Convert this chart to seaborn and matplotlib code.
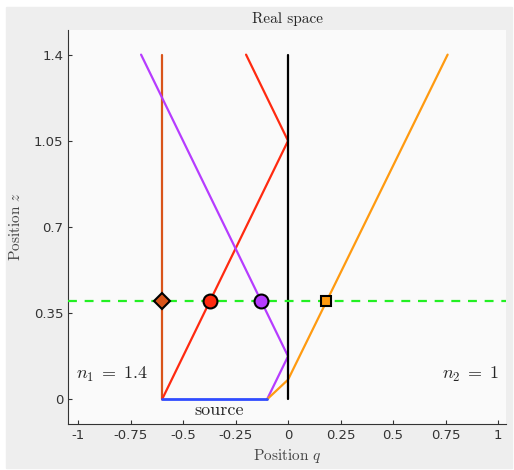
#!/usr/bin/env python
"""Real space ray picture: rays leaving a source, reflected or refracted
at the q = 0 interface, with the crossing points on the z = 0.4 line.
"""
import matplotlib
matplotlib.use('Agg')
import matplotlib.pyplot as plt
from matplotlib.patches import Rectangle
import seaborn as sb
import pandas as pd

# ray paths (q, z)
vertical_q = [-0.6, -0.6]
vertical_z = [0.0, 1.4]
red_q = [-0.6, 0.0, -0.2]
red_z = [0.0, 1.05, 1.4]
purple_q = [-0.1, 0.0, -0.7]
purple_z = [0.0, 0.175, 1.4]
orange_q = [-0.1, 0.0, 0.76]
orange_z = [0.0, 0.08, 1.4]
source_q = [-0.6, -0.1]
source_z = [0.0, 0.0]
interface_q = [0.0, 0.0]
interface_z = [0.0, 1.4]

# screen line and where each ray crosses it
screen_z = 0.4
cross_q = [-0.6, -0.37, -0.13, 0.18]
cross_name = ['vertical', 'red', 'purple', 'orange']

xticks = [-1, -0.75, -0.5, -0.25, 0, 0.25, 0.5, 0.75, 1]
xtick_labels = ['-1', '-0.75', '-0.5', '-0.25', '0', '0.25', '0.5', '0.75', '1']
yticks = [0, 0.35, 0.7, 1.05, 1.4]
ytick_labels = ['0', '0.35', '0.7', '1.05', '1.4']

colors = {
    'vertical': '#d9541a',
    'red': '#ff2a10',
    'purple': '#b63cff',
    'orange': '#ff9a10',
    'source': '#2f4cff',
    'interface': 'black',
}
markers = {'vertical': 'D', 'red': 'o', 'purple': 'o', 'orange': 's'}
sizes = {'vertical': 8, 'red': 10, 'purple': 10, 'orange': 7}


def main():
    sb.set_style('white')
    plt.rcParams['mathtext.fontset'] = 'cm'
    serif = 'cmr10'

    fig = plt.figure(figsize=(5.14, 4.70), dpi=100, facecolor='white')
    fig.patches.append(Rectangle((6 / 514, 0.004), 1 - 8 / 514, 1 - 9 / 470,
                                 transform=fig.transFigure, color='#eeeeee',
                                 zorder=-10))
    ax = fig.add_axes([68 / 514, 1 - 424 / 470, 438 / 514, 394 / 470])
    ax.set_facecolor('#fafafa')

    paths = {
        'vertical': (vertical_q, vertical_z),
        'red': (red_q, red_z),
        'purple': (purple_q, purple_z),
        'orange': (orange_q, orange_z),
        'source': (source_q, source_z),
        'interface': (interface_q, interface_z),
    }
    for name, (q, z) in paths.items():
        df = pd.DataFrame({'q': q, 'z': z})
        sb.lineplot(data=df, x='q', y='z', sort=False, estimator=None,
                    color=colors[name], lw=2.0 if name == 'source' else 1.6,
                    ax=ax)

    ax.axhline(screen_z, color='#22f022', ls=(0, (4, 3.5)), lw=1.6, zorder=3)

    for q, name in zip(cross_q, cross_name):
        ax.plot([q], [screen_z], marker=markers[name], ms=sizes[name],
                mfc=colors[name], mec='black', mew=1.5, ls='none', zorder=5)

    ax.text(-0.84, 0.1, r'$n_1 \;=\; 1.4$', ha='center', va='center',
            fontsize=13)
    ax.text(0.867, 0.1, r'$n_2 \;=\; 1$', ha='center', va='center',
            fontsize=13)
    ax.text(-0.33, -0.045, 'source', ha='center', va='center', fontsize=13,
            family=serif)

    ax.set_xlim(-1.048, 1.038)
    ax.set_ylim(-0.1, 1.5)
    ax.set_xticks(xticks)
    ax.set_xticklabels(xtick_labels)
    ax.set_yticks(yticks)
    ax.set_yticklabels(ytick_labels)
    ax.tick_params(direction='in', length=3, width=0.8, colors='#333333',
                   labelsize=9.5, labelcolor='#333333', bottom=True, left=True)
    for side in ['top', 'right']:
        ax.spines[side].set_visible(False)
    for side in ['left', 'bottom']:
        ax.spines[side].set_color('#333333')
        ax.spines[side].set_linewidth(0.8)

    ax.set_xlabel(r'Position $q$', family=serif, fontsize=11, color='#444444',
                  labelpad=4)
    ax.set_ylabel(r'Position $z$', family=serif, fontsize=11, color='#444444',
                  labelpad=8)
    ax.set_title('Real space', family=serif, fontsize=11, pad=5)

    fig.savefig('out.png', dpi=100, facecolor=fig.get_facecolor())


if __name__ == '__main__':
    main()
